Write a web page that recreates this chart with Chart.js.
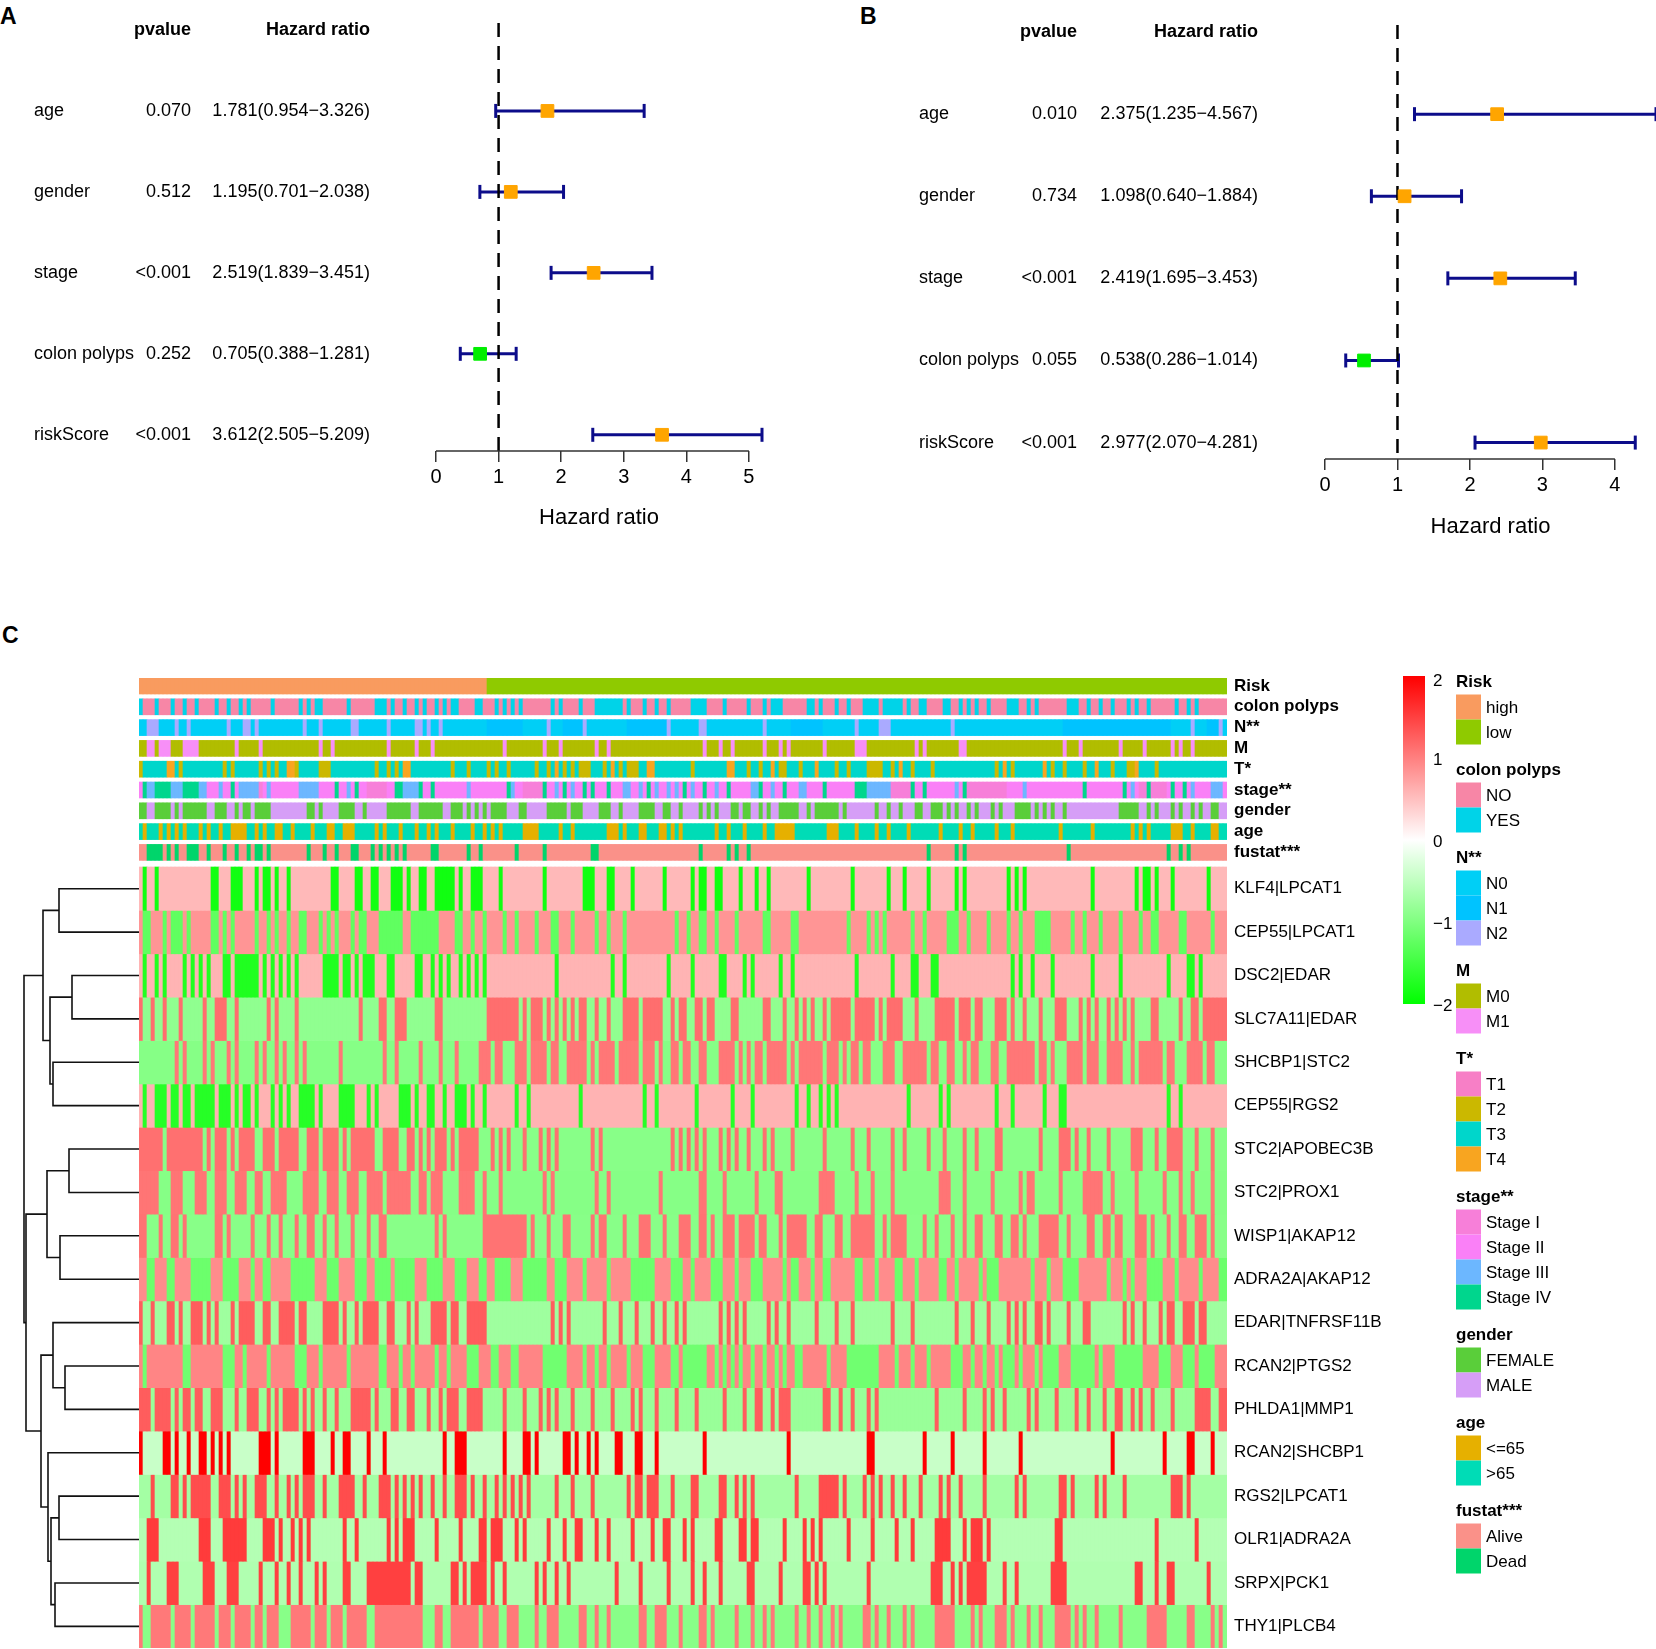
<!DOCTYPE html>
<html>
<head>
<meta charset="utf-8">
<title>Cox regression forest plots and risk heatmap</title>
<script src="https://cdn.jsdelivr.net/npm/chart.js@4.4.1/dist/chart.umd.min.js"></script>
<style>
  html, body { margin: 0; padding: 0; background: #fff; }
  body { width: 1656px; height: 1649px; position: relative; overflow: hidden; font-family: "Liberation Sans", Arial, sans-serif; }
  .box { position: absolute; }
  .tag { position: absolute; font-weight: bold; font-size: 23px; line-height: 1; color: #000; }
</style>
</head>
<body>
<div class="tag" style="left:0;top:5px">A</div>
<div class="tag" style="left:860px;top:5px">B</div>
<div class="tag" style="left:2px;top:624px">C</div>
<div class="box" style="left:0;top:0;width:828px;height:560px"><canvas id="forestA"></canvas></div>
<div class="box" style="left:828px;top:0;width:848px;height:560px"><canvas id="forestB"></canvas></div>
<div class="box" style="left:0;top:560px;width:1656px;height:1089px"><canvas id="heat"></canvas></div>
<div class="box" style="left:0;top:560px;width:140px;height:1089px"><canvas id="dendro"></canvas></div>
<script>
// ---------- forest plot data (A: univariate, B: multivariate) ----------
const coxVars = ['age', 'gender', 'stage', 'colon polyps', 'riskScore'];
const pvalA = ['0.070', '0.512', '<0.001', '0.252', '<0.001'];
const hrA   = [1.781, 1.195, 2.519, 0.705, 3.612];
const lowA  = [0.954, 0.701, 1.839, 0.388, 2.505];
const highA = [3.326, 2.038, 3.451, 1.281, 5.209];
const pvalB = ['0.010', '0.734', '<0.001', '0.055', '<0.001'];
const hrB   = [2.375, 1.098, 2.419, 0.538, 2.977];
const lowB  = [1.235, 0.640, 1.695, 0.286, 2.070];
const highB = [4.567, 1.884, 3.453, 1.014, 4.281];
const hrTicksA = [0, 1, 2, 3, 4, 5];
const hrTicksB = [0, 1, 2, 3, 4];

// ---------- heatmap data: one column per sample (sorted by risk score) ----------
const NCOL = 272;
const geneNames = ['KLF4|LPCAT1', 'CEP55|LPCAT1', 'DSC2|EDAR', 'SLC7A11|EDAR', 'SHCBP1|STC2', 'CEP55|RGS2',
  'STC2|APOBEC3B', 'STC2|PROX1', 'WISP1|AKAP12', 'ADRA2A|AKAP12', 'EDAR|TNFRSF11B', 'RCAN2|PTGS2',
  'PHLDA1|MMP1', 'RCAN2|SHCBP1', 'RGS2|LPCAT1', 'OLR1|ADRA2A', 'SRPX|PCK1', 'THY1|PLCB4'];
// row-scaled values of the two states of each gene pair
const geneHigh = [0.55, 0.83, 0.59, 1.14, 1.07, 0.60, 1.12, 1.08, 1.10, 0.90, 1.27, 0.96, 1.27, 2.00, 1.40, 1.54, 1.50, 1.05];
const geneLow  = [-1.87, -1.25, -1.75, -0.87, -0.95, -1.70, -0.93, -0.95, -0.93, -1.15, -0.75, -1.12, -0.80, -0.43, -0.71, -0.59, -0.62, -0.93];
// which state the listed columns carry; the other columns carry the other state
const geneMarkLevel = ['lo', 'lo', 'lo', 'hi', 'hi', 'lo', 'hi', 'hi', 'hi', 'hi', 'hi', 'lo', 'hi', 'hi', 'hi', 'hi', 'hi', 'hi'];

const KLF4_LPCAT1 = [1,4,[18,19],[23,25],29,31,32,34,37,[48,49],[54,55],[58,59],[63,65],67,[70,71],[74,78],80,[83,85],90,101,[111,113],[117,118],123,131,138,[140,141],[144,145],150,154,157,167,178,187,191,197,204,206,217,219,221,238,249,[251,252],254,258,267];
const CEP55_LPCAT1 = [[1,2],6,[8,10],12,[18,19],21,23,29,32,34,37,[40,41],45,47,49,53,[55,56],60,[61,65],[68,74],[79,80],83,86,91,94,99,[103,104],108,114,117,121,134,137,[140,141],144,149,[156,157],[163,164],177,182,184,186,193,196,[202,204],207,212,217,220,[224,227],233,236,240,245,250,[253,254],260,261,268];
const DSC2_EDAR = [1,4,6,11,13,15,17,[21,22],[24,29],31,33,35,37,39,[46,49],[51,52],54,[56,58],[62,63],[69,70],73,75,77,80,82,84,86,104,118,121,132,138,[145,146],151,153,160,163,179,188,[193,194],[198,199],218,220,223,228,238,245,257,[262,263],265];
const SLC7A11_EDAR = [0,3,6,10,16,[19,21],24,32,34,39,55,[60,61],[64,66],[74,75],[87,94],96,[98,100],102,104,106,108,[110,111],114,117,[121,124],[126,130],133,[135,136],[139,140],[142,143],[148,149],[156,157],161,164,166,168,171,[173,177],[179,183],185,[187,190],194,[199,203],[205,207],[209,210],[214,216],218,221,225,[229,231],235,237,239,242,244,246,248,[253,254],260,[263,264],[266,271]];
const SHCBP1_STC2 = [9,11,16,18,22,24,29,31,34,36,39,41,50,61,64,70,75,79,[85,87],[89,90],[94,96],[98,101],[103,104],[107,111],113,[115,118],[120,124],[126,128],130,[133,134],[136,137],[140,141],[145,148],150,152,[154,155],[157,161],163,[165,170],[172,174],176,[178,179],[181,182],[186,188],[191,196],[198,199],[202,203],206,[208,209],[213,214],[217,223],[225,226],228,[232,235],[237,239],[242,245],248,[250,255],[257,258],[262,265],[267,268]];
const CEP55_RGS2 = [1,[4,6],[8,9],[11,12],[14,18],[20,22],24,[26,27],29,33,35,37,[40,43],45,[50,53],57,59,[65,67],69,[72,73],76,[79,81],83,86,94,97,110,126,129,139,148,153,164,167,170,172,174,192,200,202,214,218,226,[230,231],257,260];
const STC2_APOBEC3B = [[0,5],[7,15],17,[19,21],23,[25,28],[31,33],[35,39],[42,44],[46,49],51,[53,58],[61,64],[67,68],70,72,[74,76],78,[80,84],88,90,92,96,100,102,104,113,115,133,135,137,139,141,145,147,149,152,156,158,163,171,178,182,188,191,197,201,206,209,[214,215],225,[230,232],234,237,242,[248,250],254,[257,260],264,268];
const STC2_PROX1 = [[0,4],[8,10],[14,16],[19,21],[24,26],[29,30],[33,36],[41,44],[47,49],[52,54],[57,60],[62,67],[70,71],[73,75],[80,83],86,90,101,103,114,117,130,[140,141],146,154,[159,160],[170,173],179,183,188,[200,202],206,213,220,[222,223],230,[236,240],243,249,256,260,263,268];
const WISP1_AKAP12 = [[0,1],5,[8,9],11,[19,20],22,28,32,35,39,[42,43],46,49,53,57,[60,61],74,76,[86,96],98,102,[106,107],113,[115,116],121,[125,127],131,[135,137],[140,141],143,[146,148],[150,153],[155,156],160,[162,166],[169,170],[174,175],[178,183],186,[188,191],196,199,203,206,[209,210],[214,215],[218,219],221,[225,229],232,[237,238],[241,242],[244,245],[249,251],253,257,[260,261],[264,266],268];
const ADRA2A_AKAP12 = [[0,1],[4,6],[9,12],[18,20],[25,27],[29,30],[33,37],[44,46],[50,53],[57,58],63,[69,71],[76,78],[82,84],[87,88],[93,95],[102,103],[107,110],[112,116],[118,122],[129,132],[136,137],[139,142],[146,148],[150,152],[156,160],162,[165,167],[169,170],[173,178],[181,183],[185,188],[191,193],[195,199],[202,203],[205,209],211,[215,222],[224,226],[228,230],[235,241],[243,245],247,[249,251],[256,258],[260,264],[266,269]];
const EDAR_TNFRSF11B = [0,3,[7,8],10,[13,15],17,19,23,[25,28],[31,32],[35,38],[40,41],[46,49],51,54,[56,59],[62,63],67,69,[73,76],[78,79],[82,86],103,105,107,116,120,124,128,131,134,136,145,147,149,151,157,159,162,169,174,178,188,193,204,208,212,217,219,221,[224,225],227,232,[236,237],246,248,251,255,[257,258],[261,263],[265,266]];
const RCAN2_PTGS2 = [1,[11,12],[21,23],26,32,[39,41],45,52,[60,61],65,68,74,77,[82,84],[88,89],[93,94],[101,106],111,114,117,122,[126,128],[133,134],[136,141],144,146,148,150,153,156,159,161,[164,165],172,[177,184],189,193,197,[203,205],208,211,214,[216,218],220,224,[226,229],[233,238],240,[244,250],[255,257],[261,263],[265,268]];
const PHLDA1_MMP1 = [[0,2],[4,7],9,[11,12],[14,15],[18,20],24,[27,29],32,34,[36,39],41,43,46,49,[53,57],59,[63,64],[67,68],72,75,[77,79],[82,85],91,96,100,102,104,108,113,118,123,125,129,134,139,146,151,[154,155],158,[160,162],[171,172],175,178,182,184,199,206,211,213,216,222,224,229,234,237,241,[244,245],248,250,253,258,[264,267],[270,271]];
const RCAN2_SHCBP1 = [0,[6,7],9,12,[15,16],18,20,22,[30,32],34,[41,43],48,[51,52],57,61,76,[79,81],91,[96,97],99,[106,107],109,112,114,[119,120],[124,125],129,141,162,[182,183],196,203,211,220,243,256,[262,263],268];
const RGS2_LPCAT1 = [3,[8,9],11,[13,17],[20,22],24,26,[29,31],34,37,39,[41,43],46,[50,53],56,[60,62],64,66,68,70,73,76,[79,81],83,86,89,91,93,95,97,104,108,113,122,[124,125],[127,129],133,[138,139],[145,146],149,151,153,164,[170,174],176,181,183,185,188,191,195,200,202,205,211,219,221,[230,231],233,239,241,246,[258,260],262];
const OLR1_ADRA2A = [[2,4],[15,17],[21,26],[31,33],35,38,40,42,51,54,62,64,[66,68],74,80,[85,86],[88,90],94,96,102,106,[109,110],114,117,123,128,[131,132],136,138,[144,145],[150,151],[153,154],161,166,168,170,177,183,189,193,[199,202],206,[208,210],212,[229,230],254,264];
const SRPX_PCK1 = [2,[7,9],[16,18],[22,24],30,34,37,40,44,46,[51,52],[57,67],[69,70],[78,79],81,[83,86],88,91,99,101,104,107,119,125,132,138,141,145,[152,153],160,[166,167],169,171,182,[198,200],203,205,[207,211],216,219,[228,231],[249,250],254,[257,258],267];
const THY1_PLCB4 = [0,[3,7],[9,12],[14,18],[20,22],[24,27],[29,30],[32,34],[38,42],[44,46],[48,50],[52,56],[59,70],[74,75],[78,84],[86,89],[92,94],99,[102,104],[110,111],114,117,[125,126],[129,131],135,[140,141],143,149,153,156,158,164,167,170,173,175,[181,182],184,187,191,193,[199,203],208,210,[214,216],218,222,225,[229,232],234,236,239,245,[252,256],[262,263],268,270];
const geneMarks = [KLF4_LPCAT1, CEP55_LPCAT1, DSC2_EDAR, SLC7A11_EDAR, SHCBP1_STC2, CEP55_RGS2, STC2_APOBEC3B,
  STC2_PROX1, WISP1_AKAP12, ADRA2A_AKAP12, EDAR_TNFRSF11B, RCAN2_PTGS2, PHLDA1_MMP1, RCAN2_SHCBP1,
  RGS2_LPCAT1, OLR1_ADRA2A, SRPX_PCK1, THY1_PLCB4];

// clinical annotation columns (listed columns carry the named level, the rest the base level)
const riskHigh = [[0,86]];
const polypYes = [0,4,8,11,14,19,22,25,27,33,40,42,[44,45],52,[59,61],63,66,69,71,74,76,[78,79],[84,85],89,91,93,95,103,105,110,[114,120],122,126,129,132,[138,141],146,152,156,[158,160],[167,168],170,174,177,[181,184],[186,190],192,[195,196],[201,202],205,207,209,212,[217,219],222,224,[232,234],237,240,243,247,249,252,259,262,264];
const nodeN1 = [[87,95],[106,110],[122,131],[163,170],[231,257],[267,269]];
const nodeN2 = [[2,4],9,12,22,[26,27],29,41,45,[53,54],62,[69,70],72,75,102,111,132,[140,141],156,179,[185,187],203,263,270];
const metaM1 = [[2,3],[5,7],[11,14],24,30,45,48,62,69,73,91,101,105,114,117,141,145,148,156,160,162,171,[179,181],194,196,[205,206],231,235,245,251,258,260,263];
const tumorT2 = [0,10,21,23,30,32,34,39,[45,47],59,62,64,78,82,87,89,92,99,102,106,108,[110,112],116,120,[122,124],138,152,155,[160,161],165,174,177,[182,185],188,193,198,214,218,228,231,236,243,[247,248],254];
const tumorT4 = [[7,8],[37,38],[66,67],104,118,[127,128],[147,148],158,169,190,216,226,239,249];
const stageI = [30,[57,61],[96,100],[188,192],[207,216],[250,256]];
const stageIII = [[2,3],[8,10],[15,16],20,[25,29],32,[40,44],52,[66,69],82,93,104,108,[121,122],125,129,132,134,138,144,[153,154],158,[165,166],[182,187],204,221,248,263,[268,270]];
const stageIV = [1,[4,7],[11,14],23,49,54,[64,65],70,73,92,101,106,111,113,117,127,136,141,147,155,161,171,[179,181],193,196,206,236,246,252,258,261];
const female = [[0,1],[4,7],9,[11,16],[19,21],24,[26,27],[29,32],[42,43],45,[50,53],56,[62,67],[70,75],[78,80],82,84,86,[88,91],[95,96],[102,106],[108,110],[115,117],120,[125,128],[131,132],135,140,142,144,[148,149],[151,152],155,157,[160,164],167,[169,174],176,184,187,190,[194,195],[198,200],202,204,207,209,213,215,[219,222],224,226,228,231,[245,249],252,254,258,260,263,265,[268,269]];
const ageYoung = [1,5,7,9,11,15,17,20,[23,26],29,31,[34,35],38,43,[47,48],[51,53],59,61,65,69,72,74,78,83,86,88,90,[96,99],105,108,[117,119],121,[125,126],[130,131],133,135,144,147,151,156,[159,163],[172,174],179,184,187,192,200,205,208,214,218,230,238,248,250,252,[258,260],263,[268,269]];
const dead = [[2,5],7,9,[12,14],17,21,24,27,[29,30],32,42,46,49,[53,54],58,60,62,64,66,[73,74],82,85,94,101,[113,114],140,147,149,152,197,204,206,232,257,260,262];

const colorbarTicks = [2, 1, 0, -1, -2];

// dendrogram of the gene-pair rows (hclust style: negative = leaf, positive = earlier merge)
const dendroMerge = [[-1,-2],[-3,-4],[-5,-6],[2,3],[1,4],[-7,-8],[-9,-10],[6,7],[-12,-13],[-11,9],
  [-15,-16],[-17,-18],[11,12],[-14,13],[10,14],[8,15],[5,16]];
const dendroHeight = [80, 67, 86, 89, 96, 70, 79, 92, 74, 86, 80, 84, 88, 91, 98, 113, 115];

// ---------- common ----------
const FONT = '"Liberation Sans", Arial, sans-serif';
Chart.defaults.font.family = FONT;
Chart.defaults.color = '#000';

const annoTracks = [
  { label: 'Risk', levels: ['high', 'low'], colors: ['#f99b5f', '#8fca00'], base: 'low', marks: [['high', riskHigh]] },
  { label: 'colon polyps', levels: ['NO', 'YES'], colors: ['#f786a6', '#00d3e8'], base: 'NO', marks: [['YES', polypYes]] },
  { label: 'N**', levels: ['N0', 'N1', 'N2'], colors: ['#00cff6', '#00c3ff', '#aaaaff'], base: 'N0', marks: [['N1', nodeN1], ['N2', nodeN2]] },
  { label: 'M', levels: ['M0', 'M1'], colors: ['#b1bd00', '#f78ff7'], base: 'M0', marks: [['M1', metaM1]] },
  { label: 'T*', levels: ['T1', 'T2', 'T3', 'T4'], colors: ['#f77fc6', '#cbb800', '#00d6cb', '#f8a520'], base: 'T3', marks: [['T2', tumorT2], ['T4', tumorT4]] },
  { label: 'stage**', levels: ['Stage I', 'Stage II', 'Stage III', 'Stage IV'], colors: ['#f77fd9', '#fa80f7', '#6cb7ff', '#00d68d'], base: 'Stage II', marks: [['Stage I', stageI], ['Stage III', stageIII], ['Stage IV', stageIV]] },
  { label: 'gender', levels: ['FEMALE', 'MALE'], colors: ['#5ace3a', '#d69ef7'], base: 'MALE', marks: [['FEMALE', female]] },
  { label: 'age', levels: ['<=65', '>65'], colors: ['#e6b000', '#00dcb6'], base: '>65', marks: [['<=65', ageYoung]] },
  { label: 'fustat***', levels: ['Alive', 'Dead'], colors: ['#fa9189', '#00d56b'], base: 'Alive', marks: [['Dead', dead]] }
];

function spread(list) {
  const out = [];
  list.forEach(m => {
    const [a, b] = Array.isArray(m) ? m : [m, m];
    for (let c = a; c <= b && c < NCOL; c++) out.push(c);
  });
  return out;
}

function heatColor(v) {
  const t = Math.max(-1, Math.min(1, v / 2));
  if (t >= 0) {
    const k = Math.round(255 * (1 - t));
    return `rgb(255,${k},${k})`;
  }
  const k = Math.round(255 * (1 + t));
  return `rgb(${k},255,${k})`;
}

// ---------- forest plots ----------
const Y_MIN = -1.086, Y_MAX = 4.2;
const fmt3 = v => v.toFixed(3);

function forest(id, pv, hr, lo, hi, ticks, xMax, pad, axisH, titlePad, cols) {
  const datasets = [];
  coxVars.forEach((_, i) => datasets.push({
    data: [{ x: lo[i], y: i }, { x: hi[i], y: i }],
    showLine: true, borderColor: '#0c0c8a', borderWidth: 3,
    pointStyle: 'line', pointRotation: 90, pointRadius: 7,
    pointBorderColor: '#0c0c8a', pointBorderWidth: 3,
    clip: false, order: 2
  }));
  datasets.push({
    data: [{ x: 1, y: Y_MIN }, { x: 1, y: Y_MAX }],
    showLine: true, borderColor: '#000', borderWidth: 2.5, borderDash: [14, 9],
    pointRadius: 0, clip: false, order: 1
  });
  const boxColors = hr.map(v => v > 1 ? '#ffa500' : '#00ee00');
  datasets.push({
    data: hr.map((v, i) => ({ x: v, y: i })),
    pointStyle: 'rect', pointRadius: 9, pointBackgroundColor: boxColors,
    pointBorderColor: boxColors, pointBorderWidth: 1, clip: false, order: 0
  });

  const textPlugin = {
    id: 'forestText',
    afterDraw(chart) {
      const { ctx, chartArea, scales: { x, y } } = chart;
      ctx.save();
      ctx.fillStyle = '#000';
      ctx.textBaseline = 'middle';
      ctx.font = 'bold 18px ' + FONT;
      ctx.textAlign = 'right';
      const hy = y.getPixelForValue(-1);
      ctx.fillText('pvalue', cols.pv, hy);
      ctx.fillText('Hazard ratio', cols.hr, hy);
      ctx.font = '18px ' + FONT;
      coxVars.forEach((name, i) => {
        const py = y.getPixelForValue(i);
        ctx.textAlign = 'left';
        ctx.fillText(name, cols.name, py);
        ctx.textAlign = 'right';
        ctx.fillText(pv[i], cols.pv, py);
        ctx.fillText(fmt3(hr[i]) + '(' + fmt3(lo[i]) + '\u2212' + fmt3(hi[i]) + ')', cols.hr, py);
      });
      // axis line only over the tick range
      ctx.strokeStyle = '#333';
      ctx.lineWidth = 1.5;
      ctx.beginPath();
      ctx.moveTo(x.getPixelForValue(ticks[0]), chartArea.bottom);
      ctx.lineTo(x.getPixelForValue(ticks[ticks.length - 1]), chartArea.bottom);
      ctx.stroke();
      ctx.restore();
    }
  };

  new Chart(document.getElementById(id), {
    type: 'scatter',
    data: { datasets },
    plugins: [textPlugin],
    options: {
      responsive: true, maintainAspectRatio: false, animation: false, events: [], devicePixelRatio: 1,
      layout: { padding: pad },
      plugins: { legend: { display: false }, tooltip: { enabled: false } },
      scales: {
        x: {
          type: 'linear', min: 0, max: xMax,
          afterBuildTicks: s => { s.ticks = ticks.map(v => ({ value: v })); },
          afterFit: s => { s.height = axisH; },
          grid: { drawOnChartArea: false, drawTicks: true, tickLength: 11, color: '#333', lineWidth: 1.5 },
          border: { display: false },
          ticks: { color: '#000', font: { size: 20 }, padding: 3, maxRotation: 0, autoSkip: false },
          title: { display: true, text: 'Hazard ratio', color: '#000', font: { size: 22 }, padding: { top: 0, bottom: titlePad } }
        },
        y: { type: 'linear', min: Y_MIN, max: Y_MAX, reverse: true, display: false }
      }
    }
  });
}

forest('forestA', pvalA, hrA, lowA, highA, hrTicksA, 5.209,
  { left: 436, right: 66, top: 23, bottom: 0 }, 109, 29, { name: 34, pv: 191, hr: 370 });
forest('forestB', pvalB, hrB, lowB, highB, hrTicksB, 4.567,
  { left: 497, right: 20, top: 25, bottom: 0 }, 101, 20, { name: 91, pv: 249, hr: 430 });

// ---------- heatmap ----------
const ANNO_H = 16, ANNO_PITCH = 20.8, GENE_TOP = 189, GENE_H = 43.39, HEAT_BOTTOM = 970;
const columns = Array.from({ length: NCOL }, (_, c) => String(c));

const bands = [];
annoTracks.forEach((t, k) => {
  const lv = new Array(NCOL).fill(t.levels.indexOf(t.base));
  t.marks.forEach(([name, cols]) => {
    const li = t.levels.indexOf(name);
    spread(cols).forEach(c => { lv[c] = li; });
  });
  bands.push({ top: k * ANNO_PITCH, bottom: k * ANNO_PITCH + ANNO_H, colors: lv.map(i => t.colors[i]), label: t.label, bold: true });
});
geneNames.forEach((g, i) => {
  const marked = new Set(spread(geneMarks[i]));
  const markHi = geneMarkLevel[i] === 'hi';
  const colors = columns.map((_, c) => heatColor(marked.has(c) === markHi ? geneHigh[i] : geneLow[i]));
  bands.push({ top: GENE_TOP + i * GENE_H, bottom: GENE_TOP + (i + 1) * GENE_H, colors, label: g, bold: false });
});

const heatDecor = {
  id: 'heatDecor',
  afterDraw(chart) {
    const { ctx, chartArea, scales: { y } } = chart;
    ctx.save();
    ctx.fillStyle = '#000';
    ctx.textBaseline = 'middle';
    ctx.textAlign = 'left';
    const lx = chartArea.right + 7;
    bands.forEach(b => {
      ctx.font = (b.bold ? 'bold ' : '') + '17px ' + FONT;
      ctx.fillText(b.label, lx, y.getPixelForValue((b.top + b.bottom) / 2));
    });

    // colour bar
    const cbX = 1403, cbW = 22, cbTop = 116, cbH = 328;
    const grad = ctx.createLinearGradient(0, cbTop, 0, cbTop + cbH);
    for (let s = 0; s <= 20; s++) grad.addColorStop(s / 20, heatColor(2 - 4 * s / 20));
    ctx.fillStyle = grad;
    ctx.fillRect(cbX, cbTop, cbW, cbH);
    ctx.fillStyle = '#000';
    ctx.font = '17px ' + FONT;
    colorbarTicks.forEach(v => {
      const py = cbTop + (2 - v) / 4 * cbH + 2 + (v === 2 ? 3 : 0);
      ctx.fillText(v < 0 ? '\u2212' + Math.abs(v) : String(v), 1433, py);
    });

    // annotation legends
    let ty = 122;
    const sx = 1456, sw = 25;
    annoTracks.forEach(t => {
      ctx.fillStyle = '#000';
      ctx.font = 'bold 17px ' + FONT;
      ctx.fillText(t.label, sx, ty);
      let sy = ty + 12.5;
      t.levels.forEach((lvl, j) => {
        ctx.fillStyle = t.colors[j];
        ctx.fillRect(sx, sy, sw, sw);
        ctx.fillStyle = '#000';
        ctx.font = '17px ' + FONT;
        ctx.fillText(lvl, sx + 30, sy + sw / 2 + 1);
        sy += sw;
      });
      ty = sy + 25.5;
    });
    ctx.restore();
  }
};

new Chart(document.getElementById('heat'), {
  type: 'bar',
  data: {
    labels: columns,
    datasets: bands.map(b => ({
      data: columns.map(() => [b.top, b.bottom]),
      backgroundColor: b.colors,
      borderWidth: 0, barPercentage: 1, categoryPercentage: 1, grouped: false
    }))
  },
  plugins: [heatDecor],
  options: {
    responsive: true, maintainAspectRatio: false, animation: false, events: [], devicePixelRatio: 1,
    layout: { padding: { left: 139, right: 429, top: 118, bottom: 1 } },
    plugins: { legend: { display: false }, tooltip: { enabled: false } },
    scales: {
      x: { type: 'category', display: false, offset: true, grid: { display: false } },
      y: { type: 'linear', min: 0, max: HEAT_BOTTOM, reverse: true, display: false }
    }
  }
});

// ---------- dendrogram ----------
const nodes = [];
function nodePos(ref) {
  if (ref < 0) return { h: 0, y: GENE_TOP + GENE_H * (-ref - 0.5) };
  return nodes[ref - 1];
}
const dendroSets = [];
dendroMerge.forEach(([a, b], j) => {
  const A = nodePos(a), B = nodePos(b), h = dendroHeight[j];
  nodes.push({ h, y: (A.y + B.y) / 2 });
  dendroSets.push({
    data: [{ x: A.h, y: A.y }, { x: h, y: A.y }, { x: h, y: B.y }, { x: B.h, y: B.y }],
    showLine: true, borderColor: '#111', borderWidth: 1.6, pointRadius: 0, clip: false
  });
});

new Chart(document.getElementById('dendro'), {
  type: 'scatter',
  data: { datasets: dendroSets },
  options: {
    responsive: true, maintainAspectRatio: false, animation: false, events: [], devicePixelRatio: 1,
    layout: { padding: { left: 0, right: 1, top: 118, bottom: 1 } },
    plugins: { legend: { display: false }, tooltip: { enabled: false } },
    scales: {
      x: { type: 'linear', min: 0, max: 139, reverse: true, display: false },
      y: { type: 'linear', min: 0, max: HEAT_BOTTOM, reverse: true, display: false }
    }
  }
});
</script>
</body>
</html>
